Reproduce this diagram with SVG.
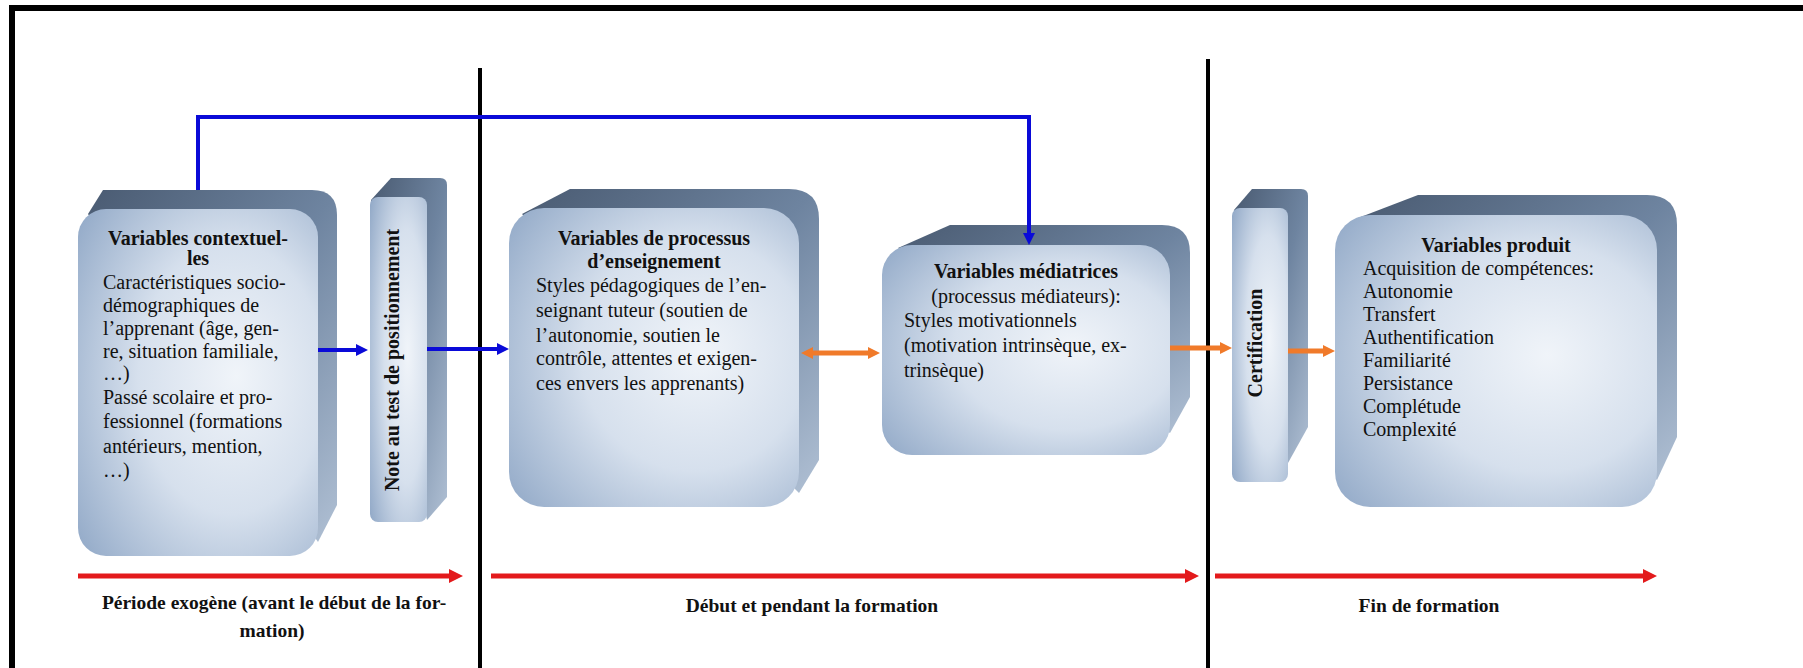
<svg xmlns="http://www.w3.org/2000/svg" width="1803" height="668" viewBox="0 0 1803 668">
<defs>
<style>
.front{fill:url(#gFront);}
.ext{fill:url(#gExt);}
.t{font-family:"Liberation Serif","Times New Roman",serif;font-size:20px;fill:#111;}
.b{font-weight:bold;}
.c{text-anchor:middle;}
.blue{stroke:#0a0ad8;stroke-width:4;fill:none;}
.orange{stroke:#f07a2a;stroke-width:5;fill:none;}
.red{stroke:#e31a1c;stroke-width:5;fill:none;}
.div{stroke:#000;stroke-width:4;}
</style>
<radialGradient id="gFront" cx="0.62" cy="0.5" r="0.78" fx="0.66" fy="0.48">
<stop offset="0" stop-color="#f0f4f9"/>
<stop offset="0.5" stop-color="#d6e0ed"/>
<stop offset="1" stop-color="#93aac8"/>
</radialGradient>
<linearGradient id="gExt" x1="0" y1="0" x2="1" y2="1">
<stop offset="0" stop-color="#4a5b72"/>
<stop offset="0.5" stop-color="#6e84a0"/>
<stop offset="1" stop-color="#b0c0d4"/>
</linearGradient>
<marker id="mBlue" markerUnits="userSpaceOnUse" markerWidth="12" markerHeight="12" refX="2" refY="6" orient="auto-start-reverse"><path d="M0,0 L12,6 L0,12 Z" fill="#0a0ad8"/></marker>
<marker id="mOrange" markerUnits="userSpaceOnUse" markerWidth="12" markerHeight="12" refX="2" refY="6" orient="auto-start-reverse"><path d="M0,0 L12,6 L0,12 Z" fill="#f07a2a"/></marker>
<marker id="mRed" markerUnits="userSpaceOnUse" markerWidth="14" markerHeight="14" refX="2" refY="7" orient="auto"><path d="M0,0 L14,7 L0,14 Z" fill="#e31a1c"/></marker>
</defs>
<rect width="1803" height="668" fill="#fff"/>
<!-- frame -->
<rect x="9" y="5" width="1794" height="6" fill="#000"/>
<rect x="9" y="5" width="6" height="663" fill="#000"/>
<!-- dividers -->
<line class="div" x1="480" y1="68" x2="480" y2="668"/>
<line class="div" x1="1208" y1="59" x2="1208" y2="668"/>

<g id="node-contextuelles">
<path class="ext" d="M88,214 L103,190 L312,190 Q337,190 337,215 L337,505 L318,542 Z"/>
<rect class="front" x="78" y="209" width="240" height="347" rx="28"/>
<text class="t b c" x="198" y="245">Variables contextuel-</text>
<text class="t b c" x="198" y="265">les</text>
<text class="t" x="103" y="289">Caractéristiques socio-</text>
<text class="t" x="103" y="312">démographiques de</text>
<text class="t" x="103" y="335">l’apprenant (âge, gen-</text>
<text class="t" x="103" y="358">re, situation familiale,</text>
<text class="t" x="103" y="380">…)</text>
<text class="t" x="103" y="404">Passé scolaire et pro-</text>
<text class="t" x="103" y="428">fessionnel (formations</text>
<text class="t" x="103" y="453">antérieurs, mention,</text>
<text class="t" x="103" y="477">…)</text>
</g>

<g id="node-note">
<path class="ext" d="M371,200 L391,178 L440,178 Q447,178 447,185 L447,497 L427,520 Z"/>
<rect class="front" x="370" y="197" width="57" height="325" rx="8"/>
<text class="t b c" transform="translate(399,360) rotate(-90)">Note au test de positionnement</text>
</g>

<g id="node-processus">
<path class="ext" d="M522,214 L570,189 L789,189 Q819,189 819,219 L819,460 L799,493 Z"/>
<rect class="front" x="509" y="208" width="290" height="299" rx="35"/>
<text class="t b c" x="654" y="245">Variables de processus</text>
<text class="t b c" x="654" y="268">d’enseignement</text>
<text class="t" x="536" y="292">Styles pédagogiques de l’en-</text>
<text class="t" x="536" y="317">seignant tuteur (soutien de</text>
<text class="t" x="536" y="342">l’autonomie, soutien le</text>
<text class="t" x="536" y="365">contrôle, attentes et exigen-</text>
<text class="t" x="536" y="390">ces envers les apprenants)</text>
</g>

<g id="node-mediatrices">
<path class="ext" d="M898,248 L950,225 L1162,225 Q1190,225 1190,253 L1190,397 L1170,433 Z"/>
<rect class="front" x="882" y="245" width="288" height="210" rx="30"/>
<text class="t b c" x="1026" y="278">Variables médiatrices</text>
<text class="t c" x="1026" y="303">(processus médiateurs):</text>
<text class="t" x="904" y="327">Styles motivationnels</text>
<text class="t" x="904" y="352">(motivation intrinsèque, ex-</text>
<text class="t" x="904" y="377">trinsèque)</text>
</g>

<g id="node-certification">
<path class="ext" d="M1234,210 L1252,189 L1301,189 Q1308,189 1308,196 L1308,427 L1288,463 Z"/>
<rect class="front" x="1232" y="208" width="56" height="274" rx="8"/>
<text class="t b c" transform="translate(1262,343) rotate(-90)">Certification</text>
</g>

<g id="node-produit">
<path class="ext" d="M1358,218 L1418,195 L1647,195 Q1677,195 1677,225 L1677,437 L1657,480 Z"/>
<rect class="front" x="1335" y="215" width="322" height="292" rx="35"/>
<text class="t b c" x="1496" y="252">Variables produit</text>
<text class="t" x="1363" y="275">Acquisition de compétences:</text>
<text class="t" x="1363" y="298">Autonomie</text>
<text class="t" x="1363" y="321">Transfert</text>
<text class="t" x="1363" y="344">Authentification</text>
<text class="t" x="1363" y="367">Familiarité</text>
<text class="t" x="1363" y="390">Persistance</text>
<text class="t" x="1363" y="413">Complétude</text>
<text class="t" x="1363" y="436">Complexité</text>
</g>

<g id="connectors">
<path class="blue" d="M198,190 V117 H1029 V235" marker-end="url(#mBlue)"/>
<line class="blue" x1="318" y1="350" x2="358" y2="350" marker-end="url(#mBlue)"/>
<line class="blue" x1="427" y1="349" x2="499" y2="349" marker-end="url(#mBlue)"/>
<line class="orange" x1="811" y1="353" x2="870" y2="353" marker-start="url(#mOrange)" marker-end="url(#mOrange)"/>
<line class="orange" x1="1170" y1="348" x2="1222" y2="348" marker-end="url(#mOrange)"/>
<line class="orange" x1="1288" y1="351" x2="1325" y2="351" marker-end="url(#mOrange)"/>
<line class="red" x1="78" y1="576" x2="451" y2="576" marker-end="url(#mRed)"/>
<line class="red" x1="491" y1="576" x2="1187" y2="576" marker-end="url(#mRed)"/>
<line class="red" x1="1215" y1="576" x2="1645" y2="576" marker-end="url(#mRed)"/>
</g>

<g id="period-labels">
<text class="t b c" x="274" y="609" style="font-size:19.5px">Période exogène (avant le début de la for-</text>
<text class="t b c" x="272" y="637" style="font-size:19.5px">mation)</text>
<text class="t b c" x="812" y="612" style="font-size:19.5px">Début et pendant la formation</text>
<text class="t b c" x="1429" y="612" style="font-size:19.5px">Fin de formation</text>
</g>
</svg>
